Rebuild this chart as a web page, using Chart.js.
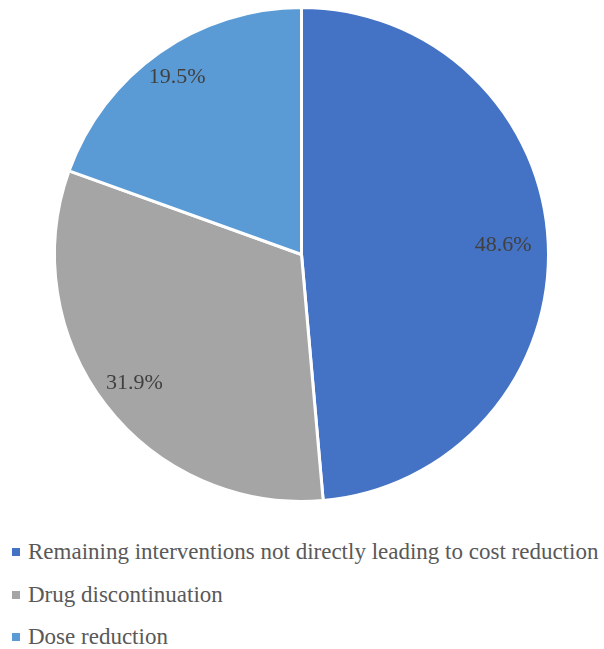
<!DOCTYPE html>
<html>
<head>
<meta charset="utf-8">
<script src="https://cdn.jsdelivr.net/npm/chart.js@4/dist/chart.umd.min.js"></script>
<style>
  html, body { margin: 0; padding: 0; background: #fff; }
  #wrap { position: relative; width: 604px; height: 649px; }
  #pie { position: absolute; left: 0; top: 0; }
  #legend { position: absolute; left: 12px; top: 536px; margin: 0; padding: 0; list-style: none;
            font-family: "Liberation Serif", "Times New Roman", serif; font-size: 23px; color: #595959; }
  #legend li { height: 42.5px; line-height: 32px; white-space: nowrap; }
  #legend span.box { display: inline-block; width: 8px; height: 8px; margin-right: 8px; vertical-align: 3px; }
</style>
</head>
<body>
<div id="wrap">
  <canvas id="pie" width="604" height="520"></canvas>
  <ul id="legend"></ul>
</div>
<script>
// Share of pharmacist interventions by type (%)
const categories = [
  "Remaining interventions not directly leading to cost reduction",
  "Drug discontinuation",
  "Dose reduction"
];
const shares = [48.6, 31.9, 19.5];
const sliceColors = ["#4472C4", "#A5A5A5", "#5B9BD5"];
// how far along each slice's mid-angle its percentage label sits (fraction of radius)
const labelDepth = [0.817, 0.854, 0.875];

// draws the percentage text inside each slice
const sliceLabels = {
  id: "sliceLabels",
  afterDatasetsDraw(chart) {
    const ctx = chart.ctx;
    const meta = chart.getDatasetMeta(0);
    ctx.save();
    ctx.font = '22px "Liberation Serif", "Times New Roman", serif';
    ctx.fillStyle = "#404040";
    ctx.textAlign = "center";
    ctx.textBaseline = "middle";
    meta.data.forEach((arc, i) => {
      const p = arc.getProps(["x", "y", "startAngle", "endAngle", "outerRadius"], true);
      const mid = (p.startAngle + p.endAngle) / 2;
      const d = p.outerRadius * labelDepth[i];
      const v = chart.data.datasets[0].data[i];
      ctx.fillText(v.toFixed(1) + "%", p.x + Math.cos(mid) * d, p.y + Math.sin(mid) * d);
    });
    ctx.restore();
  }
};

const chart = new Chart(document.getElementById("pie"), {
  type: "pie",
  data: {
    labels: categories,
    datasets: [{
      data: shares,
      backgroundColor: sliceColors,
      borderColor: "#ffffff",
      borderWidth: 3
    }]
  },
  options: {
    responsive: false,
    animation: false,
    layout: { padding: { top: 6, bottom: 17, left: 0, right: 1 } },
    plugins: {
      legend: { display: false },
      tooltip: { enabled: false }
    }
  },
  plugins: [sliceLabels]
});

// legend list built from the chart's own labels and colours
const legendEl = document.getElementById("legend");
chart.data.labels.forEach((label, i) => {
  const li = document.createElement("li");
  const box = document.createElement("span");
  box.className = "box";
  box.style.background = chart.data.datasets[0].backgroundColor[i];
  li.appendChild(box);
  li.appendChild(document.createTextNode(label));
  legendEl.appendChild(li);
});
</script>
</body>
</html>
